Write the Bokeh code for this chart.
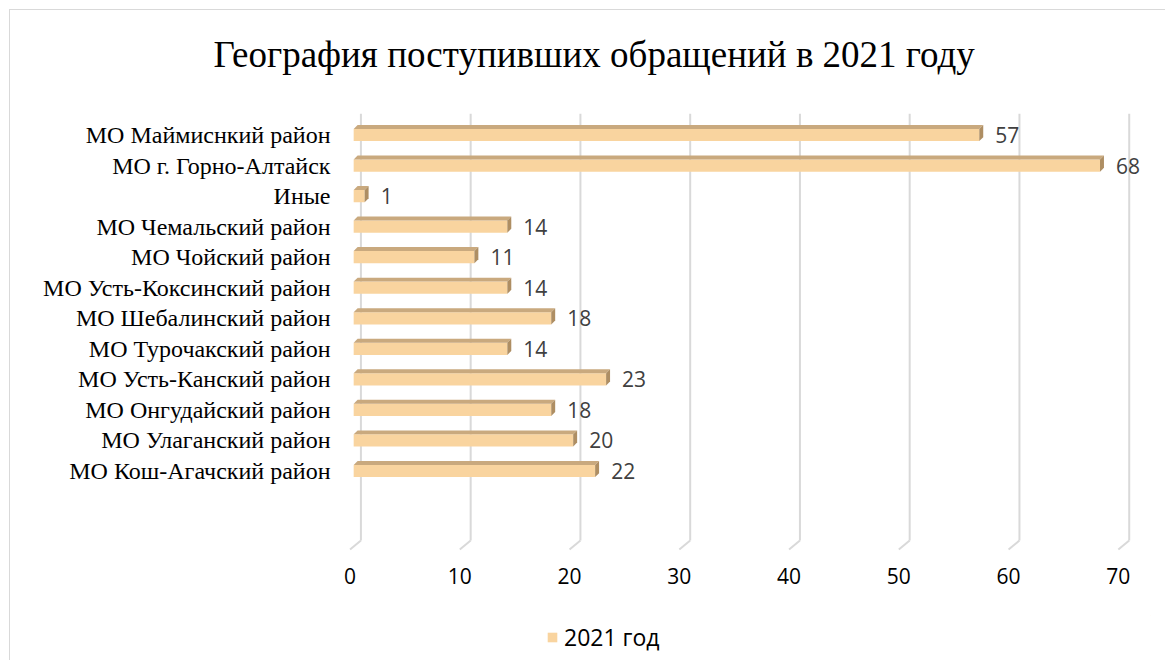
from bokeh.plotting import figure
from bokeh.layouts import column
from bokeh.models import Range1d, LinearAxis, FixedTicker, Legend, LegendItem, ColumnDataSource
from bokeh.core.properties import value
from bokeh.embed import file_html
from bokeh.resources import INLINE

# ---- data (top to bottom as shown) ----
categories = [
    "МО Маймиснкий район",
    "МО г. Горно-Алтайск",
    "Иные",
    "МО Чемальский район",
    "МО Чойский район",
    "МО Усть-Коксинский район",
    "МО Шебалинский район",
    "МО Турочакский район",
    "МО Усть-Канский район",
    "МО Онгудайский район",
    "МО Улаганский район",
    "МО Кош-Агачский район",
]
values_2021 = [57, 68, 1, 14, 11, 14, 18, 14, 23, 18, 20, 22]
x_ticks = [0, 10, 20, 30, 40, 50, 60, 70]
series_name = "2021 год"
title_text = "География поступивших обращений в 2021 году"

n = len(categories)
ys = [n - 1 - k for k in range(n)]

# ---- style ----
FRONT = "#F9D49F"
TOP = "#C9A97E"
END = "#AE8E63"
GRID = "#D9D9D9"
H = 0.40      # front face thickness (category units)
DX = 0.36     # depth offset x (data units)
DY = 0.13     # depth offset y (category units)
GRID_SHIFT = 0.66
FLOOR_SHIFT = -0.33
Y_GRID_TOP = 11.70
Y_GRID_BOT = -2.275
Y_FLOOR = -2.57

W = 1165
H_MAIN = 615
H_LEG = 45

XR = (-1.2, 72.6)
p = figure(width=W, height=H_MAIN, output_backend="svg", toolbar_location=None,
           x_range=Range1d(*XR), y_range=Range1d(-2.93, 11.966),
           x_axis_location=None, y_axis_location="left",
           min_border_left=340, min_border_right=15, min_border_top=105, min_border_bottom=55,
           title=title_text)
p.outline_line_color = None
p.xgrid.visible = False
p.ygrid.visible = False
p.background_fill_color = "white"
p.border_fill_alpha = 0

p.title.text_font = "Liberation Serif"
p.title.text_font_size = "37px"
p.title.text_font_style = "normal"
p.title.text_color = "black"
p.title.align = "left"
p.title.offset = -127
p.title.standoff = 62

# front-plane range for x tick labels
p.extra_x_ranges = {"front": Range1d(XR[0] - FLOOR_SHIFT, XR[1] - FLOOR_SHIFT)}
xax = LinearAxis(x_range_name="front", ticker=FixedTicker(ticks=x_ticks))
xax.axis_line_color = None
xax.major_tick_line_color = None
xax.minor_tick_line_color = None
xax.major_tick_out = 0
xax.major_tick_in = 0
xax.major_label_standoff = 7
xax.major_label_text_font = "Open Sans"
xax.major_label_text_font_size = "21px"
xax.major_label_text_color = "black"
p.add_layout(xax, "below")

yax = p.yaxis[0]
yax.ticker = FixedTicker(ticks=ys)
yax.major_label_overrides = {y: c for y, c in zip(ys, categories)}
yax.axis_line_color = None
yax.major_tick_line_color = None
yax.minor_tick_line_color = None
yax.major_tick_out = 0
yax.major_tick_in = 0
yax.major_label_standoff = 10
yax.major_label_text_font = "Liberation Serif"
yax.major_label_text_font_size = "24px"
yax.major_label_text_color = "black"

# gridlines (back wall) and floor lines
gx = [t + GRID_SHIFT for t in x_ticks]
p.segment(x0=gx, y0=[Y_GRID_BOT] * len(gx), x1=gx, y1=[Y_GRID_TOP] * len(gx),
          line_color=GRID, line_width=2)
fx = [t + FLOOR_SHIFT for t in x_ticks]
p.segment(x0=gx, y0=[Y_GRID_BOT] * len(gx), x1=fx, y1=[Y_FLOOR] * len(gx),
          line_color=GRID, line_width=2)

# bars: front faces
src = ColumnDataSource(dict(y=ys, v=values_2021, lbl=[str(v) for v in values_2021]))
front = p.hbar(y="y", left=0, right="v", height=H, source=src,
               fill_color=FRONT, line_color=None)

# top faces
top_xs = [[0, v, v + DX, DX] for v in values_2021]
top_ys = [[y + H / 2, y + H / 2, y + H / 2 + DY, y + H / 2 + DY] for y in ys]
p.patches(xs=top_xs, ys=top_ys, fill_color=TOP, line_color=None)

# end faces
end_xs = [[v, v + DX, v + DX, v] for v in values_2021]
end_ys = [[y - H / 2, y - H / 2 + DY, y + H / 2 + DY, y + H / 2] for y in ys]
p.patches(xs=end_xs, ys=end_ys, fill_color=END, line_color=None)

# value labels
p.text(x="v", y="y", text="lbl", source=src,
       x_offset=16, text_align="left", text_baseline="middle",
       text_font=value("Open Sans"), text_font_size="21px", text_color="#404040")

# ---- legend strip (separate figure so the legend is not clipped) ----
pl = figure(width=W, height=H_LEG, output_backend="svg", toolbar_location=None,
            x_range=Range1d(0, 1), y_range=Range1d(0, 1),
            x_axis_location=None, y_axis_location=None,
            min_border=0)
pl.outline_line_color = None
pl.xgrid.visible = False
pl.ygrid.visible = False
pl.background_fill_alpha = 0
pl.border_fill_alpha = 0
# swatch source for the legend (kept outside the visible range of this strip)
leg_r = pl.hbar(y=[5], left=[5], right=[6], height=0.5, fill_color=FRONT, line_color=None)
legend = Legend(items=[LegendItem(label=series_name, renderers=[leg_r])],
                location=(206, 7), orientation="horizontal",
                glyph_width=12, glyph_height=12, label_standoff=6,
                padding=0, margin=0, spacing=0,
                border_line_color=None, background_fill_alpha=0,
                label_text_font="Open Sans", label_text_font_size="23px",
                label_text_color="black")
pl.add_layout(legend, "center")

layout = column(p, pl, spacing=0,
                styles={"box-shadow": "inset 9px 9px 0 0 white, inset 10px 10px 0 0 #D9D9D9"})

open("out.html", "w").write(file_html(layout, INLINE))
